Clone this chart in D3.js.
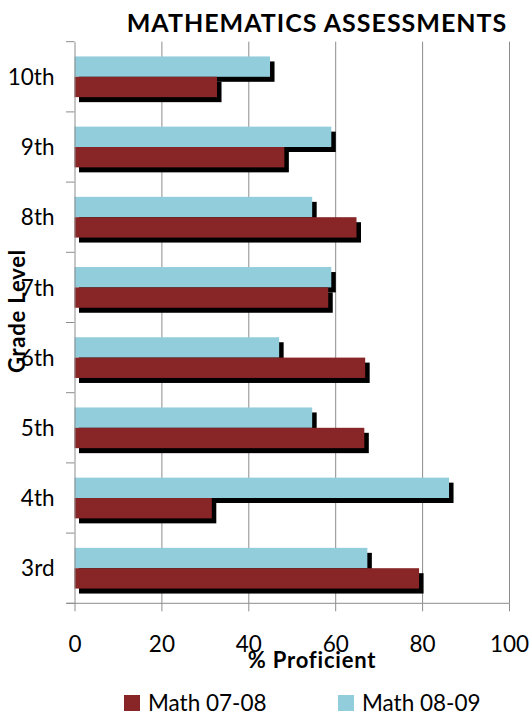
<!DOCTYPE html>
<html>
<head>
<meta charset="utf-8">
<script src="https://cdn.jsdelivr.net/npm/d3@7"></script>
<style>
  body { margin: 0; background: #fff; }
  svg { display: block; font-family: Lato, "Open Sans", sans-serif; }
</style>
</head>
<body>
<div id="chart"></div>
<script>
// Data
const grades = ["10th", "9th", "8th", "7th", "6th", "5th", "4th", "3rd"];
const seriesNames = ["Math 08-09", "Math 07-08"];
const math0809 = [45.0, 59.1, 54.7, 59.1, 47.1, 54.7, 86.2, 67.4];
const math0708 = [32.8, 48.3, 64.9, 58.4, 66.9, 66.7, 31.6, 79.3];
const xTicks = [0, 20, 40, 60, 80, 100];

const colors = { "Math 08-09": "#92cddc", "Math 07-08": "#882526" };
const axisColor = "#8c8c8c";

const W = 530, H = 716;
const plot = { left: 74.5, right: 509, top: 41.7, bottom: 603.3 };

const svg = d3.select("#chart")
  .append("svg")
  .attr("width", W)
  .attr("height", H);

// Scales
const x = d3.scaleLinear()
  .domain([0, 100])
  .range([plot.left, plot.right]);

const y = d3.scaleBand()
  .domain(grades)
  .range([plot.top, plot.bottom])
  .paddingInner(0.42)
  .paddingOuter(0.21);

const ySub = d3.scaleBand()
  .domain(seriesNames)
  .range([0, y.bandwidth()]);

const rows = grades.map((g, i) => ({
  grade: g,
  values: [
    { series: "Math 08-09", value: math0809[i] },
    { series: "Math 07-08", value: math0708[i] }
  ]
}));

// Gridlines
svg.append("g")
  .attr("transform", `translate(0,${plot.bottom})`)
  .call(d3.axisBottom(x).tickValues(xTicks.slice(1)).tickSize(-(plot.bottom - plot.top)).tickFormat(""))
  .call(g => g.select(".domain").remove())
  .call(g => g.selectAll("line").attr("stroke", axisColor));

// X axis
svg.append("g")
  .attr("transform", `translate(0,${plot.bottom})`)
  .call(d3.axisBottom(x).tickValues(xTicks).tickSize(8).tickSizeOuter(0))
  .call(g => g.select(".domain").attr("stroke", axisColor).attr("d", `M${plot.left - 8},0H${plot.right}`))
  .call(g => g.selectAll("line").attr("stroke", axisColor))
  .call(g => g.selectAll("text")
    .attr("y", 48.4)
    .attr("dy", 0)
    .attr("fill", "#000")
    .style("font-size", "22.5px")
    .style("font-family", "Lato, sans-serif"));

// Bars (shadows first)
const groups = svg.selectAll(".grade")
  .data(rows)
  .enter()
  .append("g")
  .attr("class", "grade")
  .attr("transform", d => `translate(0,${y(d.grade)})`);

groups.selectAll(".shadow")
  .data(d => d.values)
  .enter()
  .append("rect")
  .attr("class", "shadow")
  .attr("x", x(0) + 4.5)
  .attr("y", d => ySub(d.series) + 5)
  .attr("width", d => x(d.value) - x(0))
  .attr("height", ySub.bandwidth())
  .attr("fill", "#000");

groups.selectAll(".bar")
  .data(d => d.values)
  .enter()
  .append("rect")
  .attr("class", "bar")
  .attr("x", x(0))
  .attr("y", d => ySub(d.series))
  .attr("width", d => x(d.value) - x(0))
  .attr("height", ySub.bandwidth())
  .attr("fill", d => colors[d.series]);

// Y axis
const yAxis = svg.append("g")
  .attr("transform", `translate(${plot.left},0)`)
  .call(d3.axisLeft(y).tickSize(0).tickPadding(20))
  .call(g => g.select(".domain").attr("stroke", axisColor))
  .call(g => g.selectAll("text")
    .attr("fill", "#000")
    .attr("dy", "0.36em")
    .style("font-size", "22.5px")
    .style("font-family", "Lato, sans-serif"));

// category boundary ticks
const bounds = grades.map(g => y(g) - y.step() * y.paddingInner() / 2).concat([plot.bottom]);
yAxis.selectAll(".bound")
  .data(bounds)
  .enter()
  .append("line")
  .attr("class", "bound")
  .attr("x1", -8.5)
  .attr("x2", 0)
  .attr("y1", d => d)
  .attr("y2", d => d)
  .attr("stroke", axisColor);

// Title
svg.append("text")
  .attr("x", 317)
  .attr("y", 32)
  .attr("text-anchor", "middle")
  .style("font-size", "25px")
  .style("font-weight", "700")
  .style("letter-spacing", "1px")
  .text("MATHEMATICS ASSESSMENTS");

// Axis titles
svg.append("text")
  .attr("x", 312)
  .attr("y", 668.3)
  .attr("text-anchor", "middle")
  .style("font-size", "22px")
  .style("font-weight", "700")
  .style("letter-spacing", "0.8px")
  .text("% Proficient");

svg.append("text")
  .attr("transform", "translate(25,311) rotate(-90)")
  .attr("text-anchor", "middle")
  .style("font-size", "22px")
  .style("font-weight", "700")
  .style("letter-spacing", "0.8px")
  .text("Grade Level");

// Legend
const legendItems = ["Math 07-08", "Math 08-09"];
const legendX = [124, 338];

const legend = svg.selectAll(".legend")
  .data(legendItems)
  .enter()
  .append("g")
  .attr("class", "legend")
  .attr("transform", (d, i) => `translate(${legendX[i]},695)`);

legend.append("rect")
  .attr("width", 16)
  .attr("height", 16)
  .attr("fill", d => colors[d]);

legend.append("text")
  .attr("x", 24)
  .attr("y", 16)
  .style("font-size", "22.5px")
  .text(d => d);
</script>
</body>
</html>
